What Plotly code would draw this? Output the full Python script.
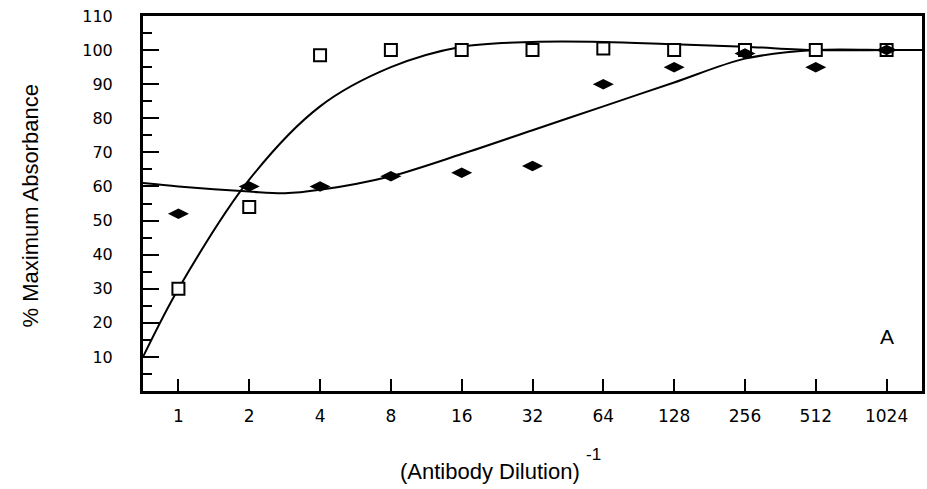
import numpy as np
import plotly.graph_objects as go

# Data
dilutions = [1, 2, 4, 8, 16, 32, 64, 128, 256, 512, 1024]
tick_labels = ["1", "2", "4", "8", "16", "32", "64", "128", "256", "512", "1024"]
squares = [30, 54, 98.5, 100, 100, 100, 100.5, 100, 100, 100, 100]
diamonds = [52, 60, 60, 63, 64, 66, 90, 95, 99, 95, 100]

# fitted curves
curve_x = [0.707, 1, 2, 4, 8, 16, 32, 64, 128, 256, 512, 1024, 1448]
square_curve = [10, 30, 62, 83.5, 95, 101, 102.4, 102.4, 101.7, 101, 100, 100, 100]
diamond_x = [0.707, 1, 2, 2.83, 4, 8, 16, 32, 64, 128, 256, 512, 1024, 1448]
diamond_curve = [61, 60, 58.5, 58, 59, 63, 69.5, 76.5, 83.5, 90.5, 97.5, 100, 100, 100]

font_family = "Liberation Sans, Arial, sans-serif"
tick_family = "DejaVu Sans, Liberation Sans, sans-serif"

W, H = 927, 489
L, R, T, B = 143, 2, 16, 98
plot_w = W - L - R
plot_h = H - T - B


def px_x(px):
    return (px - L) / plot_w


def px_y(py):
    return (H - B - py) / plot_h


fig = go.Figure()
fig.add_trace(go.Scatter(x=curve_x, y=square_curve, mode="lines",
                         line=dict(color="black", width=2, shape="spline", smoothing=0.9),
                         showlegend=False, hoverinfo="skip"))
fig.add_trace(go.Scatter(x=diamond_x, y=diamond_curve, mode="lines",
                         line=dict(color="black", width=2, shape="spline", smoothing=0.9),
                         showlegend=False, hoverinfo="skip"))
fig.add_trace(go.Scatter(x=dilutions, y=squares, mode="markers",
                         marker=dict(symbol="square", size=12, color="white",
                                     line=dict(color="black", width=2)),
                         showlegend=False))
fig.add_trace(go.Scatter(x=dilutions, y=diamonds, mode="markers",
                         marker=dict(symbol="diamond-wide", size=15, color="black",
                                     line=dict(color="black", width=0)),
                         showlegend=False))

fig.add_annotation(x=np.log10(1024), y=px_y(336), xref="x", yref="paper", text="A",
                   showarrow=False, xanchor="center", yanchor="middle",
                   font=dict(family=font_family, size=21, color="black"))
fig.add_annotation(x=px_x(491), y=px_y(471), xref="paper", yref="paper",
                   text="(Antibody Dilution)", showarrow=False,
                   xanchor="center", yanchor="middle",
                   font=dict(family=font_family, size=22, color="black"))
fig.add_annotation(x=px_x(595), y=px_y(454), xref="paper", yref="paper",
                   text="-1", showarrow=False,
                   xanchor="center", yanchor="middle",
                   font=dict(family=font_family, size=17, color="black"))
fig.add_annotation(x=px_x(31), y=px_y(206), xref="paper", yref="paper",
                   text="% Maximum Absorbance", showarrow=False, textangle=-90,
                   xanchor="center", yanchor="middle",
                   font=dict(family=font_family, size=22, color="black"))

fig.update_layout(
    width=W, height=H,
    margin=dict(l=L, r=R, t=T, b=B),
    paper_bgcolor="white", plot_bgcolor="white",
    font=dict(family=font_family, size=17, color="black"),
    xaxis=dict(type="log", range=[np.log10(0.707), np.log10(1448)],
               tickvals=dilutions, ticktext=tick_labels,
               ticks="inside", ticklen=12, tickwidth=2, tickcolor="black",
               showline=True, linewidth=3, linecolor="black", mirror=True,
               showgrid=False, zeroline=False, ticklabelstandoff=8,
               tickfont=dict(family=tick_family, size=17)),
    yaxis=dict(range=[0, 110], tickvals=list(range(10, 111, 10)),
               ticks="inside", ticklen=16, tickwidth=2, tickcolor="black",
               minor=dict(tickvals=list(range(5, 110, 10)), ticks="inside", ticklen=9,
                          tickwidth=2, tickcolor="black", showgrid=False),
               showline=True, linewidth=3, linecolor="black", mirror=True,
               showgrid=False, zeroline=False, ticklabelstandoff=24,
               tickfont=dict(family=tick_family, size=16)),
)

fig.write_html("out.html")
